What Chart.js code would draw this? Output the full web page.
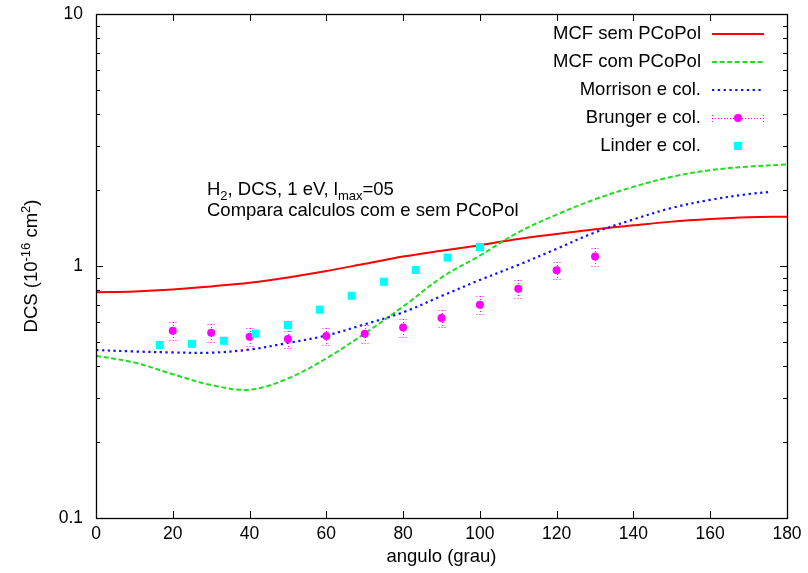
<!DOCTYPE html>
<html>
<head>
<meta charset="utf-8">
<script src="https://cdn.jsdelivr.net/npm/chart.js@4.4.0/dist/chart.umd.min.js"></script>
<style>
  html, body { margin: 0; padding: 0; background: #fff; }
  canvas { display: block; }
</style>
</head>
<body>
<canvas id="c" width="808" height="573" style="width:808px;height:573px"></canvas>
<script>
// Scattering angles (degrees) for the computed curves
const angles = [0, 10, 20, 30, 40, 50, 60, 70, 80, 90, 100, 110, 120, 130, 140, 150, 160, 170, 180];
// MCF without polarization potential
const mcfSem = [0.787, 0.792, 0.806, 0.83, 0.858, 0.90, 0.955, 1.02, 1.09, 1.15, 1.21, 1.28, 1.34, 1.40, 1.45, 1.50, 1.535, 1.56, 1.57];
// MCF with polarization potential
const mcfCom = [0.44, 0.414, 0.372, 0.337, 0.323, 0.358, 0.43, 0.54, 0.69, 0.90, 1.10, 1.36, 1.60, 1.84, 2.06, 2.26, 2.40, 2.48, 2.53];
// Morrison et al.
const morrisonAngles = [0, 10, 20, 30, 40, 50, 60, 70, 80, 90, 100, 110, 120, 130, 140, 150, 160, 170, 176];
const morrison = [0.464, 0.458, 0.454, 0.453, 0.466, 0.495, 0.53, 0.587, 0.655, 0.76, 0.88, 1.01, 1.17, 1.36, 1.53, 1.70, 1.83, 1.93, 1.97];
// Brunger et al. measurements with error bars
const brungerAngles = [20, 30, 40, 50, 60, 70, 80, 90, 100, 110, 120, 130];
const brunger = [0.554, 0.544, 0.524, 0.513, 0.527, 0.539, 0.57, 0.622, 0.702, 0.813, 0.961, 1.09];
const brungerErr = [0.044, 0.044, 0.042, 0.041, 0.042, 0.043, 0.046, 0.050, 0.056, 0.065, 0.077, 0.087];
// Linder et al. measurements
const linderAngles = [16.6, 25, 33.3, 41.6, 50, 58.3, 66.6, 75, 83.3, 91.6, 100];
const linder = [0.486, 0.491, 0.505, 0.539, 0.583, 0.671, 0.762, 0.866, 0.964, 1.08, 1.19];

// Axis ticks
const xTickValues = [0, 20, 40, 60, 80, 100, 120, 140, 160, 180];
const yTickValues = [0.1, 1, 10];
const yTickLabels = ['0.1', '1', '10'];

const FONT = "'Liberation Sans', Arial, Helvetica, sans-serif";
const FS = 18.5;      // labels, key and notes
const FS_TICK = 17.5; // tick numbers
const FS_SMALL = 13;  // super/subscripts

const RED = '#ff0000', GREEN = '#22dd22', BLUE = '#1010ff', MAGENTA = '#ff00ff', CYAN = '#00ffff';

const pairs = (xs, ys) => xs.map((x, i) => ({ x, y: ys[i] }));

// text made of normal / superscript / subscript pieces
function richWidth(ctx, parts) {
  let w = 0;
  for (const p of parts) {
    ctx.font = (p.sup || p.sub ? FS_SMALL : FS) + 'px ' + FONT;
    w += ctx.measureText(p.t).width;
  }
  return w;
}
function drawRich(ctx, parts, x, y) {
  ctx.textBaseline = 'alphabetic';
  ctx.textAlign = 'left';
  for (const p of parts) {
    const small = p.sup || p.sub;
    ctx.font = (small ? FS_SMALL : FS) + 'px ' + FONT;
    const dy = p.sup ? -7.5 : (p.sub ? 5 : 0);
    ctx.fillText(p.t, x, y + dy);
    x += ctx.measureText(p.t).width;
  }
}

function dottedErrorBar(ctx, px, yTop, yBot) {
  ctx.save();
  ctx.strokeStyle = MAGENTA;
  ctx.lineWidth = 1;
  ctx.setLineDash([1, 2]);
  ctx.beginPath();
  ctx.moveTo(px + 0.5, yTop); ctx.lineTo(px + 0.5, yBot);
  ctx.moveTo(px - 3.5, yTop + 0.5); ctx.lineTo(px + 4.5, yTop + 0.5);
  ctx.moveTo(px - 3.5, yBot + 0.5); ctx.lineTo(px + 4.5, yBot + 0.5);
  ctx.stroke();
  ctx.restore();
}

const errorBars = {
  id: 'errorBars',
  afterDatasetDraw(chart, args) {
    const ds = chart.data.datasets[args.index];
    if (!ds.errors) return;
    const { ctx, scales: { x, y } } = chart;
    ds.data.forEach((p, i) => {
      const px = Math.round(x.getPixelForValue(p.x));
      const yTop = Math.round(y.getPixelForValue(p.y + ds.errors[i]));
      const yBot = Math.round(y.getPixelForValue(p.y - ds.errors[i]));
      dottedErrorBar(ctx, px, yTop, yBot);
    });
  }
};

const frameTicksText = {
  id: 'frameTicksText',
  afterDraw(chart) {
    const { ctx, chartArea: { left, right, top, bottom }, scales: { x, y } } = chart;
    const MAJ = 7, MIN = 4;
    ctx.save();
    ctx.strokeStyle = '#000';
    ctx.lineWidth = 1;
    ctx.beginPath();
    for (const v of xTickValues) {
      const px = Math.round(x.getPixelForValue(v)) + 0.5;
      ctx.moveTo(px, bottom); ctx.lineTo(px, bottom - MAJ);
      ctx.moveTo(px, top); ctx.lineTo(px, top + MAJ);
    }
    for (let d = 0; d < yTickValues.length; d++) {
      const base = yTickValues[d];
      const py = Math.round(y.getPixelForValue(base)) + 0.5;
      ctx.moveTo(left, py); ctx.lineTo(left + MAJ, py);
      ctx.moveTo(right, py); ctx.lineTo(right - MAJ, py);
      if (d < yTickValues.length - 1) {
        for (let k = 2; k <= 9; k++) {
          const pm = Math.round(y.getPixelForValue(base * k)) + 0.5;
          ctx.moveTo(left, pm); ctx.lineTo(left + MIN, pm);
          ctx.moveTo(right, pm); ctx.lineTo(right - MIN, pm);
        }
      }
    }
    ctx.stroke();
    ctx.lineWidth = 1.3;
    ctx.strokeRect(Math.round(left) + 0.5, Math.round(top) + 0.5, Math.round(right - left), Math.round(bottom - top));

    // y-axis title
    ctx.fillStyle = '#000';
    const yTitle = [{ t: 'DCS (10' }, { t: '-16', sup: true }, { t: ' cm' }, { t: '2', sup: true }, { t: ')' }];
    const tw = richWidth(ctx, yTitle);
    ctx.save();
    ctx.translate(37, (top + bottom) / 2);
    ctx.rotate(-Math.PI / 2);
    drawRich(ctx, yTitle, -tw / 2, 0);
    ctx.restore();

    // notes inside the plot
    drawRich(ctx, [{ t: 'H' }, { t: '2', sub: true }, { t: ', DCS, 1 eV, l' }, { t: 'max', sub: true }, { t: '=05' }], 207, 195);
    drawRich(ctx, [{ t: 'Compara calculos com e sem PCoPol' }], 207, 216);

    // key
    const keyX = 701, s0 = 712, s1 = 764, sm = (s0 + s1) / 2;
    const rows = chart.data.datasets.slice().sort((a, b) => a.keyRow - b.keyRow);
    rows.forEach((ds, i) => {
      const ky = 34 + i * 28;
      ctx.font = FS + 'px ' + FONT;
      ctx.textAlign = 'right';
      ctx.textBaseline = 'middle';
      ctx.fillStyle = '#000';
      ctx.fillText(ds.label, keyX, ky);
      if (ds.showLine) {
        ctx.save();
        ctx.strokeStyle = ds.borderColor;
        ctx.lineWidth = ds.borderWidth;
        ctx.setLineDash(ds.borderDash || []);
        ctx.beginPath();
        ctx.moveTo(s0, ky); ctx.lineTo(s1, ky);
        ctx.stroke();
        ctx.restore();
      } else if (ds.errors) {
        ctx.save();
        ctx.strokeStyle = MAGENTA;
        ctx.lineWidth = 1;
        ctx.setLineDash([1, 2]);
        ctx.beginPath();
        ctx.moveTo(s0, ky + 0.5); ctx.lineTo(s1, ky + 0.5);
        ctx.moveTo(s0 + 0.5, ky - 3); ctx.lineTo(s0 + 0.5, ky + 4);
        ctx.moveTo(s1 - 0.5, ky - 3); ctx.lineTo(s1 - 0.5, ky + 4);
        ctx.stroke();
        ctx.restore();
        ctx.fillStyle = ds.backgroundColor;
        ctx.beginPath(); ctx.arc(sm, ky, ds.pointRadius, 0, Math.PI * 2); ctx.fill();
      } else {
        ctx.fillStyle = ds.backgroundColor;
        const h = ds.pointRadius * Math.SQRT1_2;
        ctx.fillRect(sm - h, ky - h, 2 * h, 2 * h);
      }
    });
    ctx.restore();
  }
};

new Chart(document.getElementById('c'), {
  type: 'scatter',
  data: {
    datasets: [
      { label: 'Linder e col.', keyRow: 4, order: 1, data: pairs(linderAngles, linder),
        showLine: false, pointStyle: 'rect', pointRadius: 5.7, borderWidth: 0,
        backgroundColor: CYAN, borderColor: CYAN },
      { label: 'Brunger e col.', keyRow: 3, order: 2, data: pairs(brungerAngles, brunger), errors: brungerErr,
        showLine: false, pointStyle: 'circle', pointRadius: 4, borderWidth: 0,
        backgroundColor: MAGENTA, borderColor: MAGENTA },
      { label: 'Morrison e col.', keyRow: 2, order: 3, data: pairs(morrisonAngles, morrison),
        showLine: true, pointRadius: 0, borderWidth: 2.2, borderColor: BLUE, borderDash: [2.3, 3.5],
        tension: 0.35, fill: false },
      { label: 'MCF com PCoPol', keyRow: 1, order: 4, data: pairs(angles, mcfCom),
        showLine: true, pointRadius: 0, borderWidth: 2, borderColor: GREEN, borderDash: [5, 2.6],
        tension: 0.35, fill: false },
      { label: 'MCF sem PCoPol', keyRow: 0, order: 5, data: pairs(angles, mcfSem),
        showLine: true, pointRadius: 0, borderWidth: 2, borderColor: RED,
        tension: 0.35, fill: false }
    ]
  },
  options: {
    responsive: false,
    animation: false,
    events: [],
    layout: { padding: { top: 14, right: 21, left: 0, bottom: 0 } },
    scales: {
      x: {
        type: 'linear', min: 0, max: 180,
        grid: { display: false, drawTicks: false }, border: { display: false },
        ticks: { stepSize: 20, color: '#000', font: { family: FONT, size: FS_TICK }, padding: 6, maxRotation: 0 },
        title: { display: true, text: 'angulo (grau)', color: '#000', font: { family: FONT, size: FS }, padding: { top: 0, bottom: 5 } },
        afterFit(s) { s.height = 55; s.paddingLeft = 0; s.paddingRight = 0; }
      },
      y: {
        type: 'logarithmic', min: 0.1, max: 10,
        grid: { display: false, drawTicks: false }, border: { display: false },
        afterBuildTicks(s) { s.ticks = yTickValues.map(v => ({ value: v })); },
        ticks: {
          color: '#000', font: { family: FONT, size: FS_TICK }, padding: 13,
          callback: (v) => { const i = yTickValues.indexOf(v); return i >= 0 ? yTickLabels[i] : ''; }
        },
        afterFit(s) { s.width = 96; s.paddingTop = 0; s.paddingBottom = 0; }
      }
    },
    plugins: { legend: { display: false }, tooltip: { enabled: false } }
  },
  plugins: [errorBars, frameTicksText]
});
</script>
</body>
</html>
